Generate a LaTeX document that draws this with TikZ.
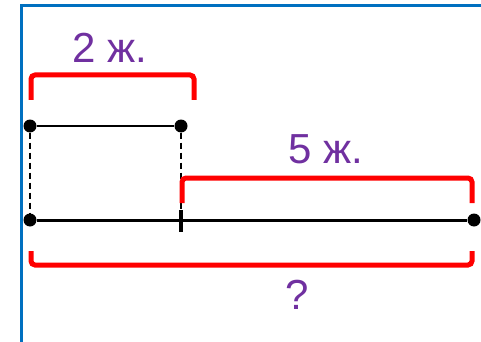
\documentclass[tikz,border=0pt]{standalone}
\usepackage{fontspec}
\setmainfont{Liberation Sans}
\definecolor{lblpurple}{RGB}{112,48,160}
\definecolor{framblue}{RGB}{0,112,192}
\begin{document}
\begin{tikzpicture}[x=1pt,y=-1pt,
  dot/.style={circle,fill=black,inner sep=0pt,minimum size=13pt},
  seg/.style={black,line width=2pt},
  dashline/.style={black,line width=1.6pt,dash pattern=on 6pt off 4pt},
  brace/.style={red,line width=5pt,rounded corners=4pt},
  lbl/.style={text=lblpurple,font=\fontsize{42}{46}\selectfont,inner sep=0pt}]
\useasboundingbox (0,0) rectangle (481,342);
\draw[framblue,line width=2.2pt] (21.5,342) -- (21.5,5.5) -- (481,5.5);
% points
\node[dot] (a) at (30,126) {};
\node[dot] (b) at (181,126) {};
\node[dot] (c) at (30,220) {};
\node[dot] (d) at (474,220) {};
\coordinate (m) at (181,220);
\draw[dashline] (a) -- (c);
\draw[dashline] (b) -- (m);
\draw[seg] (a) -- (b);
\draw[black,line width=3pt] (c) -- (d);
\draw[black,line width=4pt] (181,210) -- (181,232);
% braces
\draw[brace] (31,100) -- (31,75) -- (194,75) -- (194,100);
\draw[brace] (182,203) -- (182,178) -- (472,178) -- (472,203);
\draw[brace] (31,251) -- (31,265) -- (472,265) -- (472,251);
% labels
\node[lbl] (l1) at (110,48) {2 ж.};
\node[lbl] (l2) at (326,149) {5 ж.};
\node[lbl] (l3) at (297,295) {?};
\end{tikzpicture}
\end{document}
